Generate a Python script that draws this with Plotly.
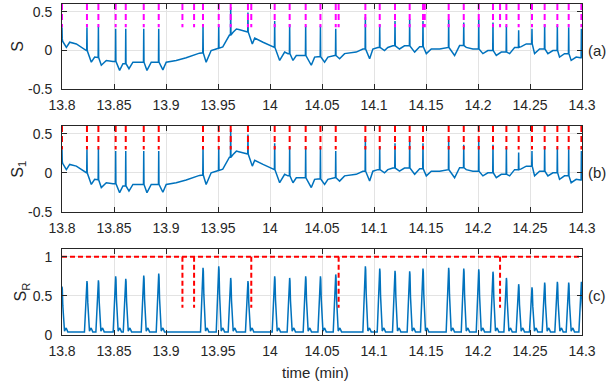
import plotly.graph_objects as go

# ---------------- data ----------------
# spike (beat) times in minutes
spike_t = [13.8000, 13.8240, 13.8350, 13.8516, 13.8613, 13.8786, 13.8930, 13.9356,
           13.9507, 13.9622, 13.9788, 14.0045, 14.0189, 14.0343, 14.0485, 14.0632,
           14.0917, 14.1055, 14.1202, 14.1343, 14.1471, 14.1718, 14.1863, 14.2007,
           14.2144, 14.2273, 14.2391, 14.2519, 14.2641, 14.2763, 14.2872, 14.2994]
# spike peak values of S
spike_peak = [0.30, 0.30, 0.31, 0.28, 0.28, 0.28, 0.28, 0.32,
              0.32, 0.56, 0.49, 0.38, 0.34, 0.32, 0.32, 0.28,
              0.43, 0.34, 0.38, 0.41, 0.38, 0.41, 0.36, 0.41,
              0.36, 0.32, 0.26, 0.28, 0.34, 0.32, 0.30, 0.28]
# S level at the foot of each spike
spike_foot = [0.15, 0.00, -0.09, -0.14, -0.17, -0.15, -0.15, -0.03,
              0.03, 0.20, 0.24, 0.04, -0.04, -0.064, -0.08, -0.064,
              0.02, 0.04, 0.06, 0.06, 0.05, 0.04, 0.064, 0.02,
              0.00, -0.02, 0.04, 0.085, 0.02, 0.00, -0.04, -0.094]
# S baseline between spikes (times, values)
base_t = [13.8006, 13.8042, 13.8074, 13.8138, 13.8234,
          13.8282, 13.8314, 13.8345,
          13.8378, 13.8426, 13.8490,
          13.8554, 13.8586,
          13.8644, 13.8682, 13.8746,
          13.8817, 13.8858, 13.8906,
          13.8970, 13.9002, 13.9098, 13.9194, 13.9322,
          13.9386, 13.9434, 13.9482,
          13.9546, 13.9578, 13.9610,
          13.9645, 13.9677, 13.9700, 13.9741, 13.9773,
          13.9830, 13.9853, 13.9933, 14.0029,
          14.0093, 14.0141, 14.0173,
          14.0221, 14.0253, 14.0333,
          14.0397, 14.0429, 14.0461,
          14.0525, 14.0557, 14.0621,
          14.0669, 14.0717, 14.0829, 14.0893,
          14.0958, 14.0989, 14.1037,
          14.1101, 14.1133, 14.1181,
          14.1245, 14.1293,
          14.1391, 14.1439,
          14.1503, 14.1551, 14.1631, 14.1695,
          14.1775, 14.1823,
          14.1887, 14.1951,
          14.2047, 14.2095,
          14.2176, 14.2224,
          14.2304, 14.2352,
          14.2416, 14.2464,
          14.2544, 14.2592,
          14.2672, 14.2720,
          14.2784, 14.2832,
          14.2896, 14.2944, 14.2985]
base_v = [0.12, 0.04, 0.107, 0.085, 0.00,
          -0.15, -0.085, -0.09,
          -0.19, -0.128, -0.14,
          -0.256, -0.17,
          -0.235, -0.15, -0.15,
          -0.256, -0.15, -0.15,
          -0.25, -0.15, -0.128, -0.094, -0.034,
          -0.15, 0.00, 0.02,
          0.047, 0.128, 0.20,
          0.235, 0.278, 0.27, 0.256, 0.24,
          0.085, 0.16, 0.107, 0.04,
          -0.128, -0.02, -0.04,
          -0.128, -0.064, -0.064,
          -0.19, -0.085, -0.08,
          -0.15, -0.085, -0.064,
          -0.107, -0.04, -0.02, 0.02,
          -0.107, 0.02, 0.04,
          0.00, 0.04, 0.06,
          0.02, 0.06,
          -0.02, 0.05,
          -0.04, 0.02, 0.02, 0.04,
          -0.064, 0.064,
          0.04, 0.02,
          -0.04, 0.00,
          -0.064, -0.02,
          -0.04, 0.04,
          0.05, 0.085,
          -0.04, 0.02,
          -0.04, 0.00,
          -0.085, -0.04,
          -0.128, -0.085, -0.094]
# S_R peak values at each spike
sr_peak = [0.62, 0.69, 0.70, 0.75, 0.72, 0.76, 0.785, 0.86,
           0.88, 0.73, 0.69, 0.75, 0.73, 0.75, 0.75, 0.775,
           0.88, 0.85, 0.82, 0.815, 0.85, 0.86, 0.85, 0.84,
           0.81, 0.73, 0.65, 0.61, 0.67, 0.68, 0.67, 0.68]
sr_floor = 0.04
sr_bump = 0.09
# extra magenta marks in panel (a)
extra_marks = [13.9158, 13.9270, 13.9820, 14.0660, 14.1488, 14.2212]
# drops of the S_R reference level in panel (c)
drop_t = [13.9158, 13.9270, 13.9820, 14.0660, 14.2212]
drop_low = 0.35
sr_level = 1.0
mark_lo, mark_hi = 0.3, 0.6
x_range = [13.8, 14.3]
xtick_vals = [13.8, 13.85, 13.9, 13.95, 14.0, 14.05, 14.1, 14.15, 14.2, 14.25, 14.3]
xtick_text = ["13.8", "13.85", "13.9", "13.95", "14", "14.05", "14.1", "14.15", "14.2", "14.25", "14.3"]
s_ticks = [-0.5, 0, 0.5]
s_tick_text = ["-0.5", "0", "0.5"]
sr_ticks = [0, 0.5, 1]
sr_tick_text = ["0", "0.5", "1"]

# ---------------- build series ----------------
pts = list(zip(base_t, base_v))
for t, p, f in zip(spike_t, spike_peak, spike_foot):
    pts += [(t - 0.00025, f), (t, p), (t + 0.00025, f)]
pts.sort()
s_x = [p[0] for p in pts]
s_y = [p[1] for p in pts]

r_pts = [(13.79, sr_floor)]
for t, p in zip(spike_t, sr_peak):
    r_pts += [(t - 0.0024, sr_floor), (t - 0.0008, 0.6 * p), (t - 0.0003, 0.95 * p), (t, p),
              (t + 0.0003, 0.95 * p), (t + 0.0008, 0.6 * p), (t + 0.0024, sr_floor + 0.01),
              (t + 0.0040, sr_bump), (t + 0.0056, sr_floor)]
r_pts.sort()
r_x = [p[0] for p in r_pts]
r_y = [p[1] for p in r_pts]


def vlines(times, lo, hi):
    xs, ys = [], []
    for t in times:
        xs += [t, t, None]
        ys += [hi, lo, None]
    return xs, ys


BLUE = "#0072BD"
fig = go.Figure()
fig.add_trace(go.Scatter(x=s_x, y=s_y, mode="lines", line=dict(color=BLUE, width=1.5),
                         xaxis="x", yaxis="y", hoverinfo="skip"))
mx, my = vlines(sorted(spike_t + extra_marks), mark_lo, mark_hi)
fig.add_trace(go.Scatter(x=mx, y=my, mode="lines", line=dict(color="#FF00FF", width=2, dash="6px,4px"),
                         xaxis="x", yaxis="y", hoverinfo="skip"))
fig.add_trace(go.Scatter(x=s_x, y=s_y, mode="lines", line=dict(color=BLUE, width=1.5),
                         xaxis="x2", yaxis="y2", hoverinfo="skip"))
rx, ry = vlines(spike_t, mark_lo, mark_hi)
fig.add_trace(go.Scatter(x=rx, y=ry, mode="lines", line=dict(color="#FF0000", width=2, dash="6px,4px"),
                         xaxis="x2", yaxis="y2", hoverinfo="skip"))
fig.add_trace(go.Scatter(x=r_x, y=r_y, mode="lines", line=dict(color=BLUE, width=1.5),
                         xaxis="x3", yaxis="y3", hoverinfo="skip"))
fig.add_trace(go.Scatter(x=x_range, y=[sr_level, sr_level], mode="lines",
                         line=dict(color="#FF0000", width=2, dash="5px,3px"),
                         xaxis="x3", yaxis="y3", hoverinfo="skip"))
dx, dy = vlines(drop_t, drop_low, sr_level)
fig.add_trace(go.Scatter(x=dx, y=dy, mode="lines", line=dict(color="#FF0000", width=2, dash="5px,3px"),
                         xaxis="x3", yaxis="y3", hoverinfo="skip"))

FONT = "Liberation Sans, Arial, sans-serif"
TXT = "#262626"


def xax(anchor):
    return dict(range=x_range, anchor=anchor, showline=True, linecolor=TXT, linewidth=1, mirror="ticks",
                ticks="inside", ticklen=5, tickcolor=TXT, showgrid=True, gridcolor="#e3e3e3",
                zeroline=False, tickvals=xtick_vals, ticktext=xtick_text, ticklabelstandoff=3,
                tickfont=dict(family=FONT, size=14, color=TXT))


def yax(anchor, rng, dom, tv, tt):
    return dict(range=rng, domain=dom, anchor=anchor, showline=True, linecolor=TXT, linewidth=1,
                mirror="ticks", ticks="inside", ticklen=5, tickcolor=TXT, showgrid=True,
                gridcolor="#e3e3e3", zeroline=False, tickvals=tv, ticktext=tt, ticklabelstandoff=6,
                tickfont=dict(family=FONT, size=14, color=TXT))


fig.update_layout(
    width=607, height=385, showlegend=False,
    margin=dict(l=62, r=25, t=4, b=50),
    paper_bgcolor="white", plot_bgcolor="white",
    xaxis=xax("y"), xaxis2=xax("y2"), xaxis3=xax("y3"),
    yaxis=yax("x", [-0.5, 0.6], [0.7423, 1.0], s_ticks, s_tick_text),
    yaxis2=yax("x2", [-0.5, 0.6], [0.3725, 0.6314], s_ticks, s_tick_text),
    yaxis3=yax("x3", [0, 1.1], [0.0, 0.2598], sr_ticks, sr_tick_text),
)

ann_font = dict(family=FONT, size=16, color=TXT)
for txt, yref, xp in [("S", "y domain", -0.0846), ("S<sub>1</sub>", "y2 domain", -0.083),
                      ("S<sub>R</sub>", "y3 domain", -0.078)]:
    fig.add_annotation(text=txt, xref="paper", yref=yref, x=xp, y=0.5, xanchor="center",
                       yanchor="middle", textangle=-90, showarrow=False, font=ann_font)
for txt, yref, yv in [("(a)", "y", 0), ("(b)", "y2", 0), ("(c)", "y3", 0.5)]:
    fig.add_annotation(text=txt, xref="paper", yref=yref, x=1.0077, y=yv, xanchor="left",
                       yanchor="middle", showarrow=False, font=dict(family=FONT, size=15, color=TXT))
fig.add_annotation(text="time (min)", xref="paper", yref="paper", x=0.488, y=-0.112,
                   xanchor="center", yanchor="middle", showarrow=False,
                   font=dict(family=FONT, size=15, color=TXT))

fig.write_html("out.html", config={"displayModeBar": False},
               post_script="document.body.style.margin='0px';document.body.style.overflow='hidden';")
